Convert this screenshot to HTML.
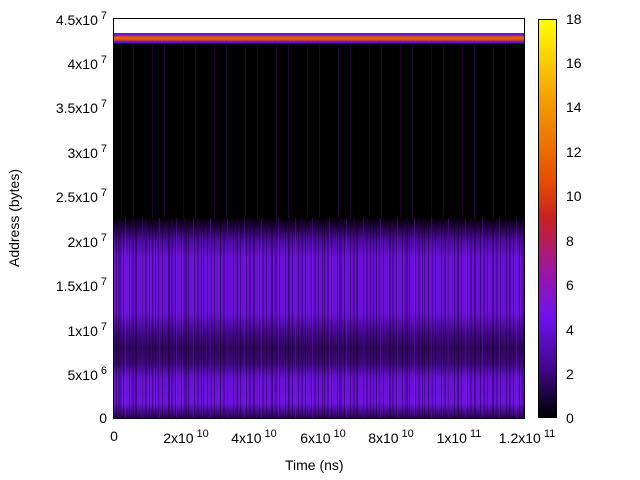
<!DOCTYPE html>
<html><head><style>
body{margin:0;width:640px;height:480px;background:#fff;position:relative;font-family:"Liberation Sans",sans-serif;font-size:14px;color:#000;overflow:hidden}
.a{position:absolute}
.yl{position:absolute;right:533px;white-space:nowrap;transform:translateY(-50%)}
.xl{position:absolute;top:428px;white-space:nowrap;transform:translateX(-50%)}
.cl{position:absolute;left:566px;transform:translateY(-50%)}
sup{font-size:11px;vertical-align:6px;margin-left:3px}
</style></head><body>
<div class="a" style="left:114px;top:19px;width:410px;height:399px;background:#000"></div>
<div class="a" style="left:114px;top:19px;width:410px;height:14px;background:#fff"></div>
<div class="a" style="left:114px;top:33px;width:410px;height:10px;background:linear-gradient(#6a10e0 0,#6a10e0 18%,#c03030 25%,#e06a10 50%,#c84020 75%,#6a10e0 82%,#6a10e0 100%)"></div>
<div class="a" style="left:114px;top:43px;width:410px;height:190px;background:repeating-linear-gradient(90deg,transparent 0 7px,rgba(70,0,110,.45) 7px 8px,transparent 8px 19px,rgba(90,10,140,.35) 19px 20px,transparent 20px 31px)"></div>
<div class="a" style="left:114px;top:218px;width:410px;height:200px;background:linear-gradient(#000 0,#240448 10px,#4c0a9c 22px,#6a10d8 40px,#6a10d8 95px,#44088a 115px,#30065e 130px,#3c0878 145px,#6810d4 160px,#6e12e0 185px,#2a0450 200px)"></div>
<div class="a" style="left:114px;top:218px;width:410px;height:200px;background:repeating-linear-gradient(90deg,rgba(0,0,0,0) 0 2px,rgba(15,0,30,.5) 2px 3px,rgba(0,0,0,0) 3px 5px,rgba(40,0,80,.35) 5px 7px,rgba(0,0,0,0) 7px 9px,rgba(20,0,40,.45) 9px 10px,rgba(0,0,0,0) 10px 13px)"></div>
<div class="a" style="left:114px;top:218px;width:410px;height:200px;background:repeating-linear-gradient(90deg,rgba(0,0,0,0) 0 4px,rgba(10,0,20,.35) 4px 5px,rgba(0,0,0,0) 5px 11px,rgba(130,40,255,.25) 11px 12px,rgba(0,0,0,0) 12px 17px)"></div>
<div class="a" style="left:113px;top:18px;width:410px;height:399px;border:1px solid #000"></div>
<div class="a" style="left:538px;top:19px;width:19px;height:399px;border:1px solid #000;box-sizing:border-box;background:linear-gradient(#ffff00 0%,#f4a000 20%,#e85000 40%,#c82020 50%,#a01898 62%,#7010f0 75%,#40088a 88%,#000 100%)"></div>
<div class="yl" style="top:418px">0</div>
<div class="yl" style="top:374px">5x10<sup>6</sup></div>
<div class="yl" style="top:330px">1x10<sup>7</sup></div>
<div class="yl" style="top:285px">1.5x10<sup>7</sup></div>
<div class="yl" style="top:241px">2x10<sup>7</sup></div>
<div class="yl" style="top:196px">2.5x10<sup>7</sup></div>
<div class="yl" style="top:152px">3x10<sup>7</sup></div>
<div class="yl" style="top:107px">3.5x10<sup>7</sup></div>
<div class="yl" style="top:63px">4x10<sup>7</sup></div>
<div class="yl" style="top:19px">4.5x10<sup>7</sup></div>
<div class="xl" style="left:114px">0</div>
<div class="xl" style="left:186px">2x10<sup>10</sup></div>
<div class="xl" style="left:254px">4x10<sup>10</sup></div>
<div class="xl" style="left:323px">6x10<sup>10</sup></div>
<div class="xl" style="left:391px">8x10<sup>10</sup></div>
<div class="xl" style="left:459px">1x10<sup>11</sup></div>
<div class="xl" style="left:527px">1.2x10<sup>11</sup></div>
<div class="cl" style="top:418px">0</div>
<div class="cl" style="top:374px">2</div>
<div class="cl" style="top:330px">4</div>
<div class="cl" style="top:285px">6</div>
<div class="cl" style="top:241px">8</div>
<div class="cl" style="top:196px">10</div>
<div class="cl" style="top:152px">12</div>
<div class="cl" style="top:107px">14</div>
<div class="cl" style="top:63px">16</div>
<div class="cl" style="top:19px">18</div>
<div class="a" style="left:285px;top:457px">Time (ns)</div>
<div class="a" style="left:14px;top:218px;transform:translate(-50%,-50%) rotate(-90deg);white-space:nowrap">Address (bytes)</div>
</body></html>
